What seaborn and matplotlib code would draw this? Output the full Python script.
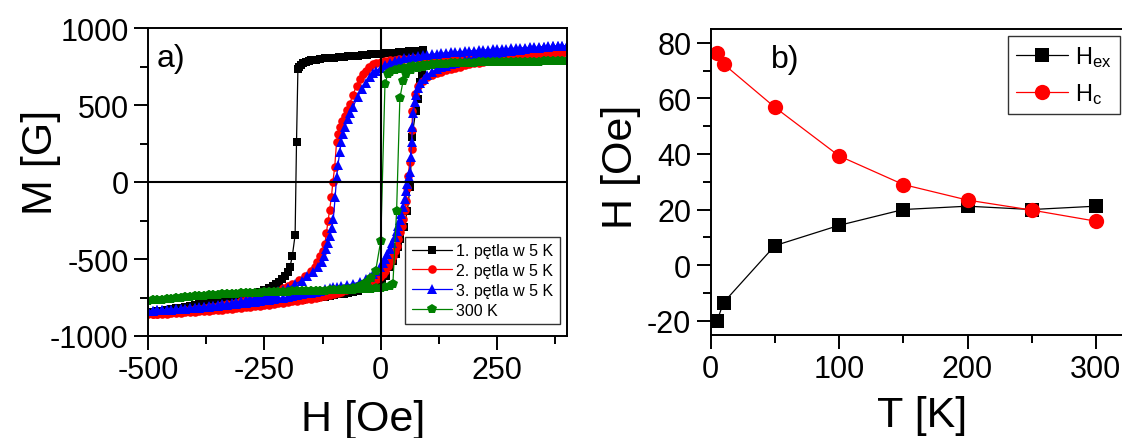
import numpy as np
import pandas as pd
import matplotlib
matplotlib.use("Agg")
import matplotlib.pyplot as plt
import seaborn as sns

# ---------------- data: panel a (hysteresis loops), (H [Oe], M [G]) in measurement order ----------------
loop1_desc = [(90, 855), (80, 853), (70, 850), (60, 848), (50, 845), (40, 843), (30, 840), (20, 838), (10, 835),
              (0, 832), (-10, 830), (-20, 828), (-30, 825), (-40, 823), (-50, 820), (-60, 818), (-70, 815),
              (-80, 812), (-90, 810), (-100, 807), (-110, 805), (-120, 802), (-130, 798), (-140, 795),
              (-150, 790), (-155, 787), (-160, 782), (-166, 772), (-171, 760), (-175, 748), (-178, 734),
              (-181, 260), (-184, -344), (-190, -480), (-195, -552), (-200, -585), (-206, -610), (-212, -632),
              (-218, -650), (-225, -665), (-232, -678), (-240, -690), (-250, -702), (-260, -712), (-270, -722),
              (-280, -730), (-290, -738), (-300, -745), (-310, -752), (-320, -758), (-330, -764), (-340, -770),
              (-350, -775), (-360, -780), (-370, -785), (-380, -790), (-390, -795), (-400, -800), (-410, -805),
              (-420, -810), (-430, -815), (-440, -820), (-450, -825), (-460, -830), (-470, -835), (-480, -840),
              (-490, -845), (-500, -850)]
loop1_asc = [(-490, -852), (-480, -850), (-470, -847), (-460, -845), (-450, -842), (-440, -840), (-430, -837),
             (-420, -835), (-410, -832), (-400, -830), (-390, -827), (-380, -825), (-370, -822), (-360, -820),
             (-350, -817), (-340, -815), (-330, -812), (-320, -810), (-310, -807), (-300, -805), (-290, -802),
             (-280, -800), (-270, -797), (-260, -795), (-250, -791), (-240, -788), (-230, -785), (-220, -782),
             (-210, -778), (-200, -775), (-190, -771), (-180, -768), (-170, -764), (-160, -760), (-150, -756),
             (-140, -752), (-130, -748), (-120, -744), (-110, -740), (-100, -735), (-90, -730), (-80, -725),
             (-70, -719), (-60, -712), (-50, -705), (-40, -698), (-30, -690), (-20, -680), (-10, -665),
             (2, -643), (11, -610), (19, -552), (26, -510), (32, -468), (37, -420), (41, -370), (49, -293),
             (57, -188), (63, -32), (67, 292), (75, 460), (80, 540), (84, 650), (88, 700)]

loop2_desc = [(400, 842), (390, 841), (380, 840), (370, 839), (360, 838), (350, 837), (340, 836), (330, 835),
              (320, 834), (310, 833), (300, 832), (290, 831), (280, 830), (270, 829), (260, 828), (250, 827),
              (240, 826), (230, 825), (220, 824), (210, 823), (200, 822), (190, 821), (180, 820), (170, 818),
              (160, 817), (150, 815), (140, 814), (130, 812), (120, 811), (110, 809), (100, 808), (90, 806),
              (80, 804), (70, 802), (60, 800), (50, 798), (40, 796), (30, 793), (20, 790), (10, 786), (0, 782),
              (-10, 775), (-17, 766), (-25, 745), (-32, 722), (-39, 700), (-45, 668), (-52, 625), (-60, 565),
              (-67, 506), (-72, 468), (-77, 430), (-83, 395), (-88, 357), (-92, 310), (-95, 257), (-99, 95),
              (-103, 0), (-106, -100), (-110, -180), (-113, -251), (-117, -330), (-120, -403), (-125, -445),
              (-131, -478), (-136, -520), (-142, -554), (-150, -580), (-163, -608), (-175, -635), (-190, -660),
              (-200, -677), (-210, -690), (-220, -705), (-230, -715), (-240, -725), (-250, -735), (-260, -745),
              (-270, -752), (-280, -760), (-290, -768), (-300, -775), (-310, -783), (-320, -790), (-330, -795),
              (-340, -800), (-350, -805), (-360, -810), (-370, -814), (-380, -818), (-390, -822), (-400, -826),
              (-410, -830), (-420, -834), (-430, -838), (-440, -842), (-450, -845), (-460, -848), (-470, -851),
              (-480, -854), (-490, -857), (-500, -860)]
loop2_asc = [(-490, -858), (-480, -857), (-470, -855), (-460, -854), (-450, -852), (-440, -850), (-430, -848),
             (-420, -846), (-410, -844), (-400, -842), (-390, -840), (-380, -838), (-370, -835), (-360, -833),
             (-350, -830), (-340, -828), (-330, -825), (-320, -822), (-310, -819), (-300, -816), (-290, -813),
             (-280, -810), (-270, -806), (-260, -803), (-250, -800), (-240, -796), (-230, -792), (-220, -788),
             (-210, -784), (-200, -780), (-190, -775), (-180, -771), (-170, -766), (-160, -762), (-150, -757),
             (-140, -752), (-130, -746), (-120, -740), (-110, -733), (-100, -726), (-92, -719), (-85, -712),
             (-74, -700), (-67, -694), (-60, -688), (-50, -678), (-39, -665), (-25, -650), (-15, -638),
             (-9, -630), (-2, -615), (5, -597), (10, -575), (16, -543), (21, -512), (26, -478), (30, -448),
             (34, -413), (38, -370), (41, -327), (45, -285), (48, -240), (52, -180), (55, -121), (57, -40),
             (59, 41), (62, 130), (66, 214), (67, 340), (68, 463), (73, 571), (80, 625), (90, 658), (100, 680),
             (110, 696), (120, 708), (130, 717), (140, 726), (150, 734), (160, 742), (170, 750), (180, 757),
             (190, 765), (200, 770), (210, 775), (220, 780), (230, 785), (240, 789), (250, 793), (260, 797),
             (270, 800), (280, 804), (290, 808), (300, 811), (310, 815), (320, 818), (330, 822), (340, 826),
             (350, 830), (360, 833), (370, 836), (380, 838), (390, 840), (400, 842)]

loop3_desc = [(400, 885), (390, 884), (380, 883), (370, 881), (360, 880), (350, 878), (340, 877), (330, 875),
              (320, 874), (310, 872), (300, 871), (290, 869), (280, 868), (270, 866), (260, 865), (250, 863),
              (240, 861), (230, 859), (220, 857), (210, 855), (200, 853), (190, 851), (180, 849), (170, 846),
              (160, 844), (150, 841), (140, 839), (130, 836), (120, 833), (110, 830), (100, 826), (90, 822),
              (80, 818), (70, 813), (60, 808), (50, 802), (40, 795), (30, 786), (20, 775), (10, 760), (0, 742),
              (-10, 722), (-17, 705), (-24, 682), (-32, 645), (-41, 604), (-50, 550), (-60, 487), (-66, 450),
              (-71, 409), (-77, 360), (-82, 312), (-85, 260), (-88, 195), (-92, 110), (-95, 30), (-98, -100),
              (-102, -240), (-105, -300), (-109, -349), (-113, -395), (-117, -435), (-122, -480), (-127, -521),
              (-135, -555), (-146, -584), (-158, -612), (-170, -640), (-185, -665), (-200, -688), (-210, -699),
              (-220, -710), (-230, -720), (-240, -730), (-250, -739), (-260, -748), (-270, -755), (-280, -762),
              (-290, -769), (-300, -775), (-310, -781), (-320, -786), (-330, -791), (-340, -795), (-350, -799),
              (-360, -803), (-370, -807), (-380, -810), (-390, -813), (-400, -816), (-410, -819), (-420, -822),
              (-430, -825), (-440, -827), (-450, -829), (-460, -831), (-470, -833), (-480, -834), (-490, -836),
              (-500, -837)]
loop3_asc = [(-490, -836), (-480, -834), (-470, -832), (-460, -830), (-450, -828), (-440, -826), (-430, -824),
             (-420, -822), (-410, -820), (-400, -817), (-390, -815), (-380, -812), (-370, -809), (-360, -806),
             (-350, -803), (-340, -800), (-330, -797), (-320, -794), (-310, -791), (-300, -787), (-290, -784),
             (-280, -780), (-270, -776), (-260, -772), (-250, -768), (-240, -764), (-230, -760), (-220, -755),
             (-210, -751), (-200, -746), (-190, -741), (-180, -736), (-170, -730), (-160, -724), (-150, -718),
             (-140, -712), (-130, -705), (-120, -698), (-110, -691), (-103, -685), (-95, -680), (-85, -675),
             (-72, -668), (-60, -662), (-45, -648), (-31, -630), (-24, -615), (-17, -597), (-10, -578),
             (-2, -552), (4, -525), (9, -500), (14, -470), (19, -435), (25, -398), (30, -359), (34, -320),
             (37, -284), (41, -245), (44, -208), (48, -160), (51, -110), (54, -60), (57, -10), (60, 30), (62, 65),
             (64, 160), (66, 260), (68, 360), (70, 450), (73, 520), (76, 565), (80, 610), (85, 640), (92, 670),
             (100, 695), (110, 715), (120, 732), (130, 744), (140, 755), (150, 765), (160, 775), (170, 785),
             (180, 793), (190, 800), (200, 808), (210, 815), (220, 822), (230, 828), (240, 833), (250, 838),
             (260, 843), (270, 848), (280, 852), (290, 856), (300, 860), (310, 864), (320, 867), (330, 870),
             (340, 873), (350, 876), (360, 878), (370, 880), (380, 882), (390, 884), (400, 885)]

loop4_desc = [(400, 785), (390, 785), (380, 784), (370, 784), (360, 783), (350, 783), (340, 782), (330, 782),
              (320, 781), (310, 781), (300, 780), (290, 780), (280, 779), (270, 779), (260, 778), (250, 778),
              (240, 777), (230, 777), (220, 776), (210, 776), (200, 775), (190, 774), (180, 773), (170, 772),
              (160, 771), (150, 770), (140, 768), (130, 767), (120, 765), (110, 764), (100, 762), (90, 759),
              (80, 756), (70, 752), (60, 748), (50, 743), (40, 736), (30, 728), (20, 715), (15, 700), (9, 636),
              (0, -381), (-11, -576), (-20, -625), (-30, -650), (-40, -668), (-50, -680), (-60, -688),
              (-70, -693), (-80, -697), (-90, -700), (-100, -703), (-110, -704), (-120, -705), (-130, -706),
              (-140, -707), (-150, -708), (-160, -708), (-170, -709), (-180, -710), (-190, -711), (-200, -712),
              (-210, -713), (-220, -714), (-230, -715), (-240, -716), (-250, -717), (-260, -718), (-270, -719),
              (-280, -720), (-290, -722), (-300, -723), (-310, -725), (-320, -726), (-330, -728), (-340, -730),
              (-350, -732), (-360, -734), (-370, -736), (-380, -738), (-390, -740), (-400, -743), (-410, -745),
              (-420, -748), (-430, -751), (-440, -754), (-450, -757), (-460, -760), (-470, -763), (-480, -766),
              (-490, -769), (-500, -772)]
loop4_asc = [(-490, -769), (-480, -766), (-470, -763), (-460, -760), (-450, -757), (-440, -754), (-430, -751),
             (-420, -748), (-410, -745), (-400, -743), (-390, -740), (-380, -738), (-370, -736), (-360, -734),
             (-350, -732), (-340, -730), (-330, -728), (-320, -726), (-310, -725), (-300, -723), (-290, -722),
             (-280, -720), (-270, -719), (-260, -718), (-250, -717), (-240, -716), (-230, -715), (-220, -714),
             (-210, -713), (-200, -712), (-190, -711), (-180, -710), (-170, -709), (-160, -708), (-150, -708),
             (-140, -707), (-130, -706), (-120, -705), (-110, -704), (-100, -703), (-90, -702), (-80, -701),
             (-70, -700), (-60, -699), (-50, -698), (-40, -697), (-30, -695), (-20, -693), (-10, -690), (0, -688),
             (10, -683), (20, -675), (26, -662), (34, -186), (41, 545), (48, 658), (55, 700), (65, 725),
             (80, 742), (90, 750), (100, 755), (110, 759), (120, 763), (130, 766), (140, 768), (150, 770),
             (160, 771), (170, 772), (180, 773), (190, 774), (200, 775), (210, 776), (220, 776), (230, 777),
             (240, 777), (250, 778), (260, 778), (270, 779), (280, 779), (290, 780), (300, 780), (310, 781),
             (320, 781), (330, 782), (340, 782), (350, 783), (360, 783), (370, 784), (380, 784), (390, 785),
             (400, 785)]

loop_labels = ["1. pętla w 5 K", "2. pętla w 5 K", "3. pętla w 5 K", "300 K"]

# ---------------- data: panel b ----------------
T_K = [5, 10, 50, 100, 150, 200, 250, 300]
H_ex = [-20, -13.5, 7, 14.3, 20, 21.2, 20, 21.2]
H_c = [76.3, 72.4, 56.8, 39.3, 29, 23.4, 19.8, 15.8]

# ---------------- style ----------------
sns.set_theme(style="ticks")
plt.rcParams['font.family'] = ['Liberation Sans', 'DejaVu Sans']
plt.rcParams['mathtext.fontset'] = 'custom'
plt.rcParams['mathtext.rm'] = 'Liberation Sans'
plt.rcParams['mathtext.it'] = 'Liberation Sans'
plt.rcParams['axes.unicode_minus'] = False
for key in ['text.color', 'axes.labelcolor', 'xtick.color', 'ytick.color', 'axes.edgecolor']:
    plt.rcParams[key] = 'black'

fig = plt.figure(figsize=(11.22, 4.39), dpi=100)
ax1 = fig.add_axes([148/1122, 1 - 337/439, (567-148)/1122, (337-29)/439])
ax2 = fig.add_axes([710.7/1122, 1 - 335.5/439, (1128-710.7)/1122, (335.5-30)/439])

loops = [loop1_desc + loop1_asc, loop2_desc + loop2_asc, loop3_desc + loop3_asc, loop4_desc + loop4_asc]
styles = [('black', 's', 5.5), ('#ff0000', 'o', 6.2), ('#0000ff', '^', 6.8), ('#008000', 'p', 7.2)]
for pts, (c, mk, ms), lab in zip(loops, styles, loop_labels):
    df = pd.DataFrame(pts, columns=['H', 'M'])
    sns.lineplot(data=df, x='H', y='M', sort=False, estimator=None, ax=ax1, color=c,
                 marker=mk, markersize=ms, markeredgewidth=0, linewidth=0.9, label=lab)

ax1.axhline(0, color='black', lw=1.5, zorder=3)
ax1.axvline(0, color='black', lw=1.5, zorder=3)
ax1.set_xlim(-500, 400)
ax1.set_ylim(-1000, 1000)
ax1.set_xticks([-500, -250, 0, 250])
ax1.set_xticks([-375, -125, 125, 375], minor=True)
ax1.set_yticks([-1000, -500, 0, 500, 1000])
ax1.set_yticks([-750, -250, 250, 750], minor=True)
ax1.set_xlabel('H [Oe]', fontsize=31)
ax1.set_ylabel('M [G]', fontsize=31)
ax1.xaxis.set_label_coords(0.513, -0.205)
ax1.yaxis.set_label_coords(-0.208, 0.568)
ax1.text(0.02, 0.95, 'a)', transform=ax1.transAxes, fontsize=23, va='top', ha='left')
leg1 = ax1.legend(loc='lower right', bbox_to_anchor=(0.983, 0.039), borderaxespad=0,
                  fontsize=11.5, frameon=True, fancybox=False, edgecolor='black',
                  handlelength=2.5, handletextpad=0.3, labelspacing=0.3, borderpad=0.4)
leg1.get_frame().set_linewidth(1.0)

# panel b
dfb = pd.DataFrame({'T': T_K, 'Hex': H_ex, 'Hc': H_c})
sns.lineplot(data=dfb, x='T', y='Hex', ax=ax2, color='black', marker='s', markersize=10,
             markeredgewidth=0, linewidth=0.9, label=r'$\mathregular{H_{ex}}$')
sns.lineplot(data=dfb, x='T', y='Hc', ax=ax2, color='#ff0000', marker='o', markersize=11,
             markeredgewidth=0, linewidth=0.9, label=r'$\mathregular{H_{c}}$')
ax2.set_xlim(0, 325)
ax2.set_ylim(-25, 85)
ax2.set_xticks([0, 100, 200, 300])
ax2.set_xticks([50, 150, 250], minor=True)
ax2.set_yticks([-20, 0, 20, 40, 60, 80])
ax2.set_yticks([-10, 10, 30, 50, 70], minor=True)
ax2.set_xlabel('T [K]', fontsize=31)
ax2.set_ylabel('H [Oe]', fontsize=31)
ax2.xaxis.set_label_coords(0.506, -0.198)
ax2.yaxis.set_label_coords(-0.167, 0.553)
ax2.text(0.145, 0.95, 'b)', transform=ax2.transAxes, fontsize=23, va='top', ha='left')
leg2 = ax2.legend(loc='upper right', bbox_to_anchor=(0.981, 0.977), borderaxespad=0,
                  fontsize=17, frameon=True, fancybox=False, edgecolor='black',
                  handlelength=2.2, handletextpad=0.3, labelspacing=0.5, borderpad=0.35)
leg2.get_frame().set_linewidth(1.0)

for ax in (ax1, ax2):
    for s in ax.spines.values():
        s.set_visible(True)
        s.set_color('black')
        s.set_linewidth(1.4)
    ax.tick_params(axis='both', which='major', direction='out', length=10, width=1.4,
                   labelsize=22, pad=4, colors='black', top=False, right=False)
    ax.tick_params(axis='both', which='minor', direction='out', length=6, width=1.4,
                   top=False, right=False)
    ax.set_facecolor('white')
    ax.grid(False)

fig.patch.set_facecolor('white')
fig.savefig('out.png', dpi=100, facecolor='white')
